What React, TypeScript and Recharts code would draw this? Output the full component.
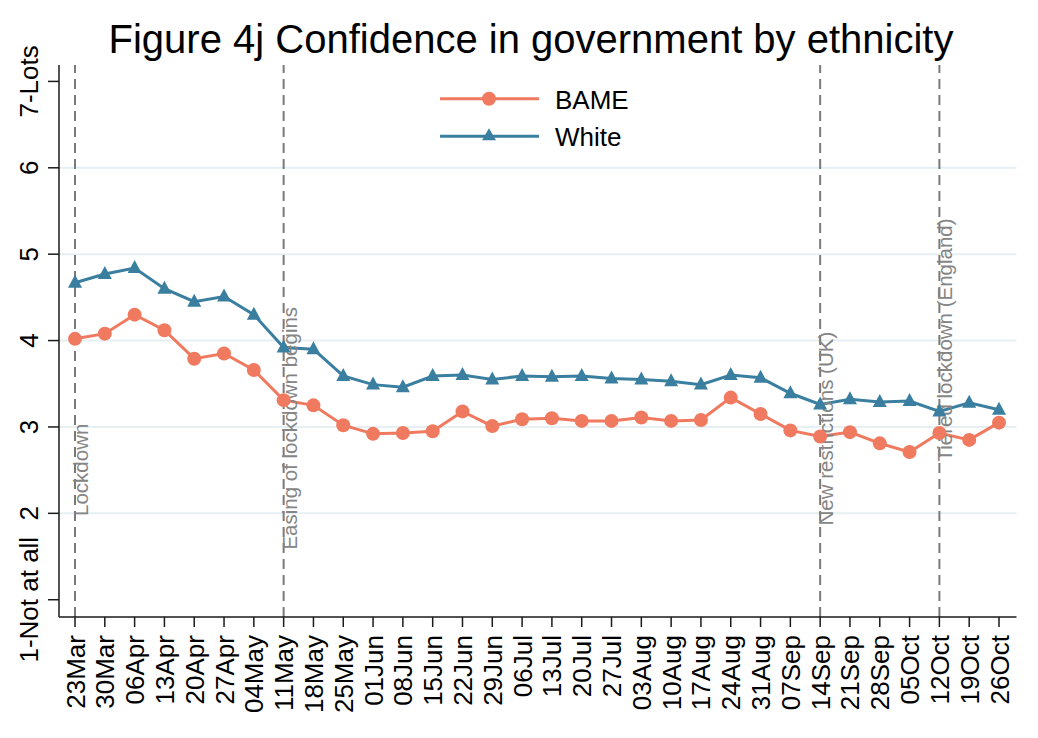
import React from 'react';
import {
  LineChart, Line, XAxis, YAxis, CartesianGrid, ReferenceLine, ReferenceDot, Legend,
} from 'recharts';

const weeks = ['23Mar','30Mar','06Apr','13Apr','20Apr','27Apr','04May','11May','18May','25May','01Jun','08Jun','15Jun','22Jun','29Jun','06Jul','13Jul','20Jul','27Jul','03Aug','10Aug','17Aug','24Aug','31Aug','07Sep','14Sep','21Sep','28Sep','05Oct','12Oct','19Oct','26Oct'];
const bame = [4.02,4.08,4.30,4.12,3.79,3.85,3.66,3.31,3.25,3.02,2.92,2.93,2.95,3.18,3.01,3.09,3.10,3.07,3.07,3.11,3.07,3.08,3.34,3.15,2.96,2.89,2.94,2.81,2.71,2.93,2.85,3.05];
const white = [4.67,4.77,4.84,4.60,4.45,4.51,4.30,3.92,3.90,3.59,3.49,3.46,3.59,3.60,3.55,3.59,3.58,3.59,3.56,3.55,3.53,3.49,3.60,3.57,3.39,3.26,3.32,3.29,3.30,3.18,3.28,3.20];
const yTicks = [1, 2, 3, 4, 5, 6, 7];
const yTickLabels = ['1-Not at all', '2', '3', '4', '5', '6', '7-Lots'];
const eventWeeks = ['23Mar', '11May', '14Sep', '12Oct'];
const eventLabels = ['Lockdown', 'Easing of lockdown begins', 'New restrictions (UK)', 'Tiered lockdown (England)'];
const eventLabelY = [1.97, 1.58, 1.86, 2.6];

const data = weeks.map((w, i) => ({ week: w, BAME: bame[i], White: white[i] }));

const FONT = '"Liberation Sans", Arial, sans-serif';
const BAME_COLOR = '#F07A60';
const WHITE_COLOR = '#3A7FA0';

const Circle = ({ cx, cy }: any) => <circle cx={cx} cy={cy} r={7} fill={BAME_COLOR} />;
const Tri = ({ cx, cy }: any) => (
  <polygon points={`${cx},${cy - 8} ${cx - 7},${cy + 5} ${cx + 7},${cy + 5}`} fill={WHITE_COLOR} />
);

const XTick = ({ x, y, payload }: any) => {
  const bx = x + 9.5;
  return (
    <text x={bx} y={y} transform={`rotate(-90, ${bx}, ${y})`} textAnchor="end" fontSize={26} fontFamily={FONT} fill="#000">
      {payload.value}
    </text>
  );
};

const YTick = ({ x, y, payload }: any) => {
  const idx = yTicks.indexOf(payload.value);
  return (
    <text x={x} y={y} transform={`rotate(-90, ${x}, ${y})`} textAnchor="middle" fontSize={26} fontFamily={FONT} fill="#000">
      {idx >= 0 ? yTickLabels[idx] : payload.value}
    </text>
  );
};

const renderLegend = (props: any) => {
  const items = props.payload || [];
  return (
    <svg width={260} height={80} style={{ display: 'block' }}>
      {items.map((it: any, i: number) => {
        const y = 18.7 + i * 37.5;
        return (
          <g key={i}>
            <line x1={10} x2={109} y1={y} y2={y} stroke={it.color} strokeWidth={3} />
            {it.value === 'BAME' ? (
              <circle cx={59} cy={y} r={7} fill={it.color} />
            ) : (
              <polygon points={`59,${y - 8} 52,${y + 4} 66,${y + 4}`} fill={it.color} />
            )}
            <text x={125} y={y + 10} fontSize={26} fontFamily={FONT} fill="#000">{it.value}</text>
          </g>
        );
      })}
    </svg>
  );
};

const makeEventLabel = (text: string) => (props: any) => {
  const vb = props.viewBox || {};
  const cx = (vb.x || 0) + (vb.width || 0) / 2;
  const cy = (vb.y || 0) + (vb.height || 0) / 2;
  const bx = cx + 13;
  return (
    <text x={bx} y={cy} transform={`rotate(-90, ${bx}, ${cy})`} textAnchor="start" fontSize={20.5} fontFamily={FONT} fill="#858585">
      {text}
    </text>
  );
};

export default function App() {
  return (
    <div style={{ position: 'absolute', left: 0, top: 0, width: 1038, height: 738, background: '#fff' }}>
      <LineChart width={1038} height={738} data={data} margin={{ top: 65, right: 21.5, bottom: 0, left: 0 }}>
        <CartesianGrid vertical={false} horizontalValues={[2, 3, 4, 5, 6]} stroke="#E6EFF1" strokeWidth={2} />
        <XAxis
          dataKey="week"
          interval={0}
          height={121}
          tickSize={10}
          tickMargin={8}
          padding={{ left: 16, right: 17.5 }}
          tick={<XTick />}
          axisLine={{ stroke: '#1a1a1a', strokeWidth: 1.5 }}
          tickLine={{ stroke: '#1a1a1a', strokeWidth: 1.5 }}
        />
        <YAxis
          type="number"
          domain={[0.8, 7.19]}
          ticks={yTicks}
          interval={0}
          width={59}
          tickSize={11}
          tickMargin={10}
          allowDataOverflow
          tick={<YTick />}
          axisLine={{ stroke: '#1a1a1a', strokeWidth: 1.5 }}
          tickLine={{ stroke: '#1a1a1a', strokeWidth: 1.5 }}
        />
        {eventWeeks.map((w) => (
          <ReferenceLine key={w} x={w} stroke="#7a7a7a" strokeWidth={2} strokeDasharray="10 6" />
        ))}
        {eventWeeks.map((w, i) => (
          <ReferenceDot key={'d' + w} x={w} y={eventLabelY[i]} r={1} fill="none" stroke="none" ifOverflow="visible" label={makeEventLabel(eventLabels[i])} />
        ))}
        <Line type="linear" dataKey="BAME" stroke={BAME_COLOR} strokeWidth={3} dot={<Circle />} activeDot={false} isAnimationActive={false} />
        <Line type="linear" dataKey="White" stroke={WHITE_COLOR} strokeWidth={3} dot={<Tri />} activeDot={false} isAnimationActive={false} />
        <Legend
          layout="vertical"
          align="center"
          verticalAlign="middle"
          content={renderLegend}
          wrapperStyle={{ position: 'absolute', left: 430, top: 80, width: 260, height: 80 }}
        />
      </LineChart>
      <svg width={1038} height={70} style={{ position: 'absolute', left: 0, top: 0, pointerEvents: 'none' }}>
        <text x={531} y={52.7} textAnchor="middle" fontSize={40} fontFamily={FONT} fill="#000">
          Figure 4j Confidence in government by ethnicity
        </text>
      </svg>
    </div>
  );
}
